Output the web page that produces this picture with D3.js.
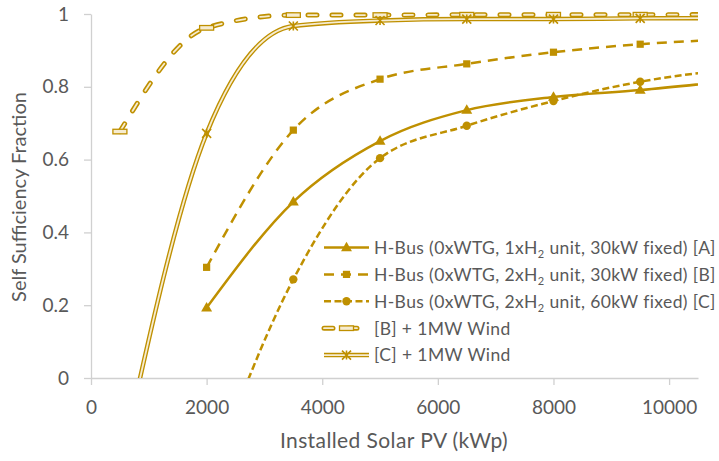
<!DOCTYPE html>
<html>
<head>
<meta charset="utf-8">
<script src="https://cdn.jsdelivr.net/npm/d3@7"></script>
<style>
  body { margin: 0; background: #ffffff; }
  text { font-family: Lato, "Open Sans", sans-serif; fill: #595959; }
</style>
</head>
<body>
<svg id="chart" width="719" height="461"></svg>
<script>
// Installed PV sizes (kWp) for the H-Bus runs without wind
const pvNoWind = [2000, 3500, 5000, 6500, 8000, 9500, 11000];
// Installed PV sizes (kWp) for the runs with 1 MW of wind
const pvWind = [500, 2000, 3500, 5000, 6500, 8000, 9500, 11000];

// Self sufficiency fraction per configuration
const busA = [0.193, 0.484, 0.651, 0.736, 0.772, 0.791, 0.815];
const busB = [0.304, 0.681, 0.821, 0.863, 0.895, 0.917, 0.930];
const busC = [-0.30, 0.271, 0.604, 0.693, 0.761, 0.814, 0.847];
const busBWind = [0.677, 0.962, 0.997, 0.997, 0.998, 0.998, 0.998, 0.999];
const busCWind = [-0.25, 0.672, 0.967, 0.982, 0.986, 0.986, 0.988, 0.989];

const seriesLabels = [
  "H-Bus (0xWTG, 1xH₂ unit, 30kW fixed) [A]",
  "H-Bus (0xWTG, 2xH₂ unit, 30kW fixed) [B]",
  "H-Bus (0xWTG, 2xH₂ unit, 60kW fixed) [C]",
  "[B] + 1MW Wind",
  "[C] + 1MW Wind"
];

const xTicks = [0, 2000, 4000, 6000, 8000, 10000];
const yTicks = [0, 0.2, 0.4, 0.6, 0.8, 1];
const xMax = 10500;

const gold = "#BF9000";
const pale = "#f6ecd0";

const svg = d3.select("#chart");
const margin = { left: 91, top: 14, right: 21, bottom: 83 };
const W = 719, H = 461;

const x = d3.scaleLinear().domain([0, xMax]).range([margin.left, W - margin.right]);
const y = d3.scaleLinear().domain([0, 1]).range([H - margin.bottom, margin.top]);

// Series styling
const series = [
  { xs: pvNoWind, ys: busA, kind: "single", dash: null, marker: "triangle" },
  { xs: pvNoWind, ys: busB, kind: "single", dash: "10,7", marker: "square" },
  { xs: pvNoWind, ys: busC, kind: "single", dash: "7,3.5", marker: "circle" },
  { xs: pvWind, ys: busBWind, kind: "double", dash: "9,15", marker: "bar" },
  { xs: pvWind, ys: busCWind, kind: "double", dash: null, marker: "star" }
].map((s, i) => Object.assign(s, { label: seriesLabels[i],
  points: s.xs.map((v, j) => ({ x: v, y: s.ys[j] })) }));

// Axes
const axisColor = "#d0d0d0";
const gx = svg.append("g")
  .attr("transform", `translate(0,${y(0)})`)
  .call(d3.axisBottom(x).tickValues(xTicks).tickSize(7).tickSizeOuter(0).tickPadding(16).tickFormat(d3.format("d")));
const gy = svg.append("g")
  .attr("transform", `translate(${x(0)},0)`)
  .call(d3.axisLeft(y).tickValues(yTicks).tickSize(7).tickSizeOuter(0).tickPadding(15).tickFormat(d3.format("~g")));
[gx, gy].forEach(g => {
  g.selectAll("path.domain").attr("stroke", axisColor).attr("stroke-width", 1.3);
  g.selectAll(".tick line").attr("stroke", axisColor).attr("stroke-width", 1.3);
  g.selectAll(".tick text").style("font-size", "19px").attr("fill", "#595959");
});

// Axis titles
svg.append("text")
  .attr("x", 394).attr("y", 448)
  .attr("text-anchor", "middle")
  .style("font-size", "21px")
  .style("letter-spacing", "0.4px")
  .text("Installed Solar PV (kWp)");
svg.append("text")
  .attr("transform", "translate(26,197) rotate(-90)")
  .attr("text-anchor", "middle")
  .style("font-size", "20px")
  .text("Self Sufficiency Fraction");

// Plot area clip
svg.append("clipPath").attr("id", "plotClip")
  .append("rect").attr("x", x(0)).attr("y", 0)
  .attr("width", x(xMax) - x(0)).attr("height", y(0));

const plot = svg.append("g").attr("clip-path", "url(#plotClip)");

const line = d3.line().x(d => x(d.x)).y(d => y(d.y)).curve(d3.curveMonotoneX);

function strokePath(sel, s) {
  if (s.kind === "single") {
    sel.append("path").attr("fill", "none").attr("stroke", gold)
      .attr("stroke-width", 2.5)
      .attr("stroke-dasharray", s.dash)
      .attr("stroke-linecap", "butt");
  } else {
    sel.append("path").attr("fill", "none").attr("stroke", gold)
      .attr("stroke-width", s.dash ? 5 : 4.5)
      .attr("stroke-dasharray", s.dash)
      .attr("stroke-linecap", s.dash ? "round" : "butt");
    sel.append("path").attr("fill", "none").attr("stroke", pale)
      .attr("stroke-width", 1.8)
      .attr("stroke-dasharray", s.dash)
      .attr("stroke-linecap", s.dash ? "round" : "butt");
  }
}

function drawMarker(g, type, cx, cy) {
  if (type === "triangle") {
    g.append("path").attr("d", d3.symbol(d3.symbolTriangle, 52)())
      .attr("transform", `translate(${cx},${cy + 0.5})`).attr("fill", gold);
  } else if (type === "square") {
    g.append("path").attr("d", d3.symbol(d3.symbolSquare, 52)())
      .attr("transform", `translate(${cx},${cy})`).attr("fill", gold);
  } else if (type === "circle") {
    g.append("path").attr("d", d3.symbol(d3.symbolCircle, 55)())
      .attr("transform", `translate(${cx},${cy})`).attr("fill", gold);
  } else if (type === "bar") {
    g.append("rect").attr("x", cx - 7).attr("y", cy - 2.3)
      .attr("width", 14).attr("height", 4.6)
      .attr("fill", pale).attr("stroke", gold).attr("stroke-width", 1.3);
  } else if (type === "star") {
    const r = 4.5;
    g.append("path")
      .attr("d", `M${cx - r},${cy - r}L${cx + r},${cy + r}M${cx - r},${cy + r}L${cx + r},${cy - r}M${cx},${cy - r}L${cx},${cy + r}`)
      .attr("stroke", gold).attr("stroke-width", 1.6).attr("fill", "none");
  }
}

series.forEach(s => {
  const g = plot.append("g");
  strokePath(g, s);
  g.selectAll("path").attr("d", line(s.points));
  s.points.filter(p => p.x <= xMax && p.y >= 0)
    .forEach(p => drawMarker(g, s.marker, x(p.x), y(p.y)));
});

// Legend
const legend = svg.append("g");
const legX0 = 324, legX1 = 369, legTextX = 374, legY0 = 247.5, legDy = 26.9;
series.forEach((s, i) => {
  const cy = legY0 + i * legDy;
  const g = legend.append("g");
  strokePath(g, s);
  g.selectAll("path").attr("d", `M${legX0},${cy}L${legX1},${cy}`);
  drawMarker(g, s.marker, (legX0 + legX1) / 2, cy);
  const t = legend.append("text")
    .attr("x", legTextX).attr("y", cy).attr("dy", "0.36em")
    .style("font-size", "17.5px")
    .style("letter-spacing", "0.38px");
  const parts = s.label.split("₂");
  parts.forEach((p, k) => {
    if (k > 0) {
      t.append("tspan").attr("dy", "4").style("font-size", "11px").text("2");
      t.append("tspan").attr("dy", "-4").text(p);
    } else {
      t.append("tspan").text(p);
    }
  });
});
</script>
</body>
</html>
